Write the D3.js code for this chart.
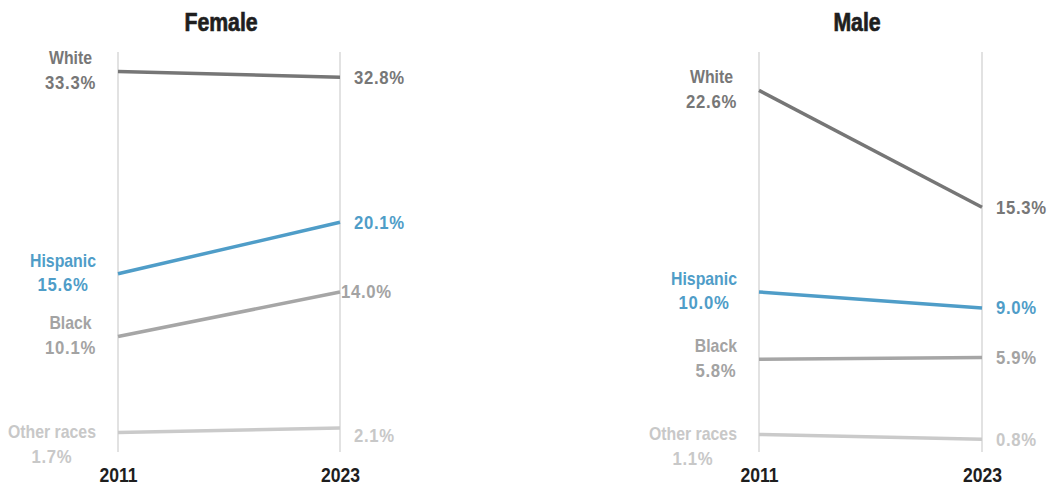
<!DOCTYPE html>
<html>
<head>
<meta charset="utf-8">
<script src="https://cdn.jsdelivr.net/npm/d3@7"></script>
<style>
  html, body { margin: 0; padding: 0; background: #fff; }
  svg { display: block; font-family: "Liberation Sans", Arial, sans-serif; }
</style>
</head>
<body>
<svg id="chart" width="1052" height="489"></svg>
<script>
// Share of each group, 2011 vs 2023
const years = ["2011", "2023"];
const groups = ["White", "Hispanic", "Black", "Other races"];
const panelTitles = ["Female", "Male"];
const femaleStart = [33.3, 15.6, 10.1, 1.7];
const femaleEnd   = [32.8, 20.1, 14.0, 2.1];
const maleStart   = [22.6, 10.0, 5.8, 1.1];
const maleEnd     = [15.3, 9.0, 5.9, 0.8];
const panelMax    = [35, 25];

// Styling
const lineColors  = { "White": "#767676", "Hispanic": "#4f9dc8", "Black": "#a6a6a6", "Other races": "#cacaca" };
const labelColors = { "White": "#777777", "Hispanic": "#4f9dc8", "Black": "#a3a3a3", "Other races": "#c8c8c8" };
const SQUEEZE = 0.88; // horizontal condensing of all text

const panels = [
  { title: panelTitles[0], start: femaleStart, end: femaleEnd, max: panelMax[0], x0: 118, x1: 340, titleX: 221 },
  { title: panelTitles[1], start: maleStart,   end: maleEnd,   max: panelMax[1], x0: 759, x1: 982, titleX: 857 }
];

// small nudges for end labels that would otherwise crowd
const endNudge = { "Female|Black": { dx: -13, dy: 0 }, "Female|Other races": { dx: 0, dy: 8 } };

const svg = d3.select("#chart");
const yTop = 52, yBottom = 452;

panels.forEach(p => {
  const x = d3.scalePoint().domain(years).range([p.x0, p.x1]);
  const y = d3.scaleLinear().domain([0, p.max]).range([yBottom, yTop]);
  const g = svg.append("g");

  // vertical year rules
  g.selectAll("line.rule").data(years).join("line")
    .attr("class", "rule")
    .attr("x1", d => x(d)).attr("x2", d => x(d))
    .attr("y1", yTop).attr("y2", yBottom)
    .attr("stroke", "#d9d9d9").attr("stroke-width", 1.5);

  // title
  g.append("text")
    .attr("transform", `translate(${p.titleX},31) scale(0.85,1)`)
    .attr("text-anchor", "middle")
    .attr("font-size", 25).attr("font-weight", "bold")
    .attr("fill", "#1e1e1e").attr("stroke", "#1e1e1e").attr("stroke-width", 0.7)
    .text(p.title);

  // year labels
  const xAxis = d3.axisBottom(x).tickSize(0).tickPadding(0);
  const ax = g.append("g").attr("transform", `translate(0,${yBottom + 16})`).call(xAxis);
  ax.select(".domain").remove();
  ax.selectAll("text")
    .attr("transform", `scale(${SQUEEZE},1)`)
    .attr("font-size", 20).attr("font-weight", "bold")
    .attr("fill", "#1e1e1e").attr("font-family", "Liberation Sans, Arial, sans-serif");

  const rows = groups.map((grp, i) => ({ grp, a: p.start[i], b: p.end[i] }));

  // slope lines
  g.selectAll("line.slope").data(rows).join("line")
    .attr("class", "slope")
    .attr("x1", x(years[0])).attr("x2", x(years[1]))
    .attr("y1", d => y(d.a)).attr("y2", d => y(d.b))
    .attr("stroke", d => lineColors[d.grp])
    .attr("stroke-width", 3.5);

  // start labels: group name above value, block to the left of the first rule
  rows.forEach(d => {
    const py = y(d.a);
    const center = py > 400 ? py + 12 : py - 1;
    const lg = g.append("g");
    const t = lg.append("text")
      .attr("text-anchor", "middle")
      .attr("fill", labelColors[d.grp])
      .attr("font-weight", "bold");
    const t1 = t.append("tspan").attr("font-size", 18).attr("x", 0).attr("y", -12)
      .attr("dominant-baseline", "central").text(d.grp);
    const t2 = t.append("tspan").attr("font-size", 19).attr("letter-spacing", 0.8).attr("x", 0).attr("y", 12)
      .attr("dominant-baseline", "central").text(d.a.toFixed(1) + "%");
    const w = SQUEEZE * Math.max(t1.node().getComputedTextLength(), t2.node().getComputedTextLength());
    const cx = x(years[0]) - 22 - w / 2;
    lg.attr("transform", `translate(${cx},${center}) scale(${SQUEEZE},1)`);
  });

  // end labels
  rows.forEach(d => {
    const n = endNudge[p.title + "|" + d.grp] || { dx: 0, dy: 0 };
    g.append("text")
      .attr("transform", `translate(${x(years[1]) + 14 + n.dx},${y(d.b) + n.dy}) scale(${SQUEEZE},1)`)
      .attr("dominant-baseline", "central")
      .attr("font-size", 19).attr("font-weight", "bold").attr("letter-spacing", 0.8)
      .attr("fill", labelColors[d.grp])
      .text(d.b.toFixed(1) + "%");
  });
});
</script>
</body>
</html>
